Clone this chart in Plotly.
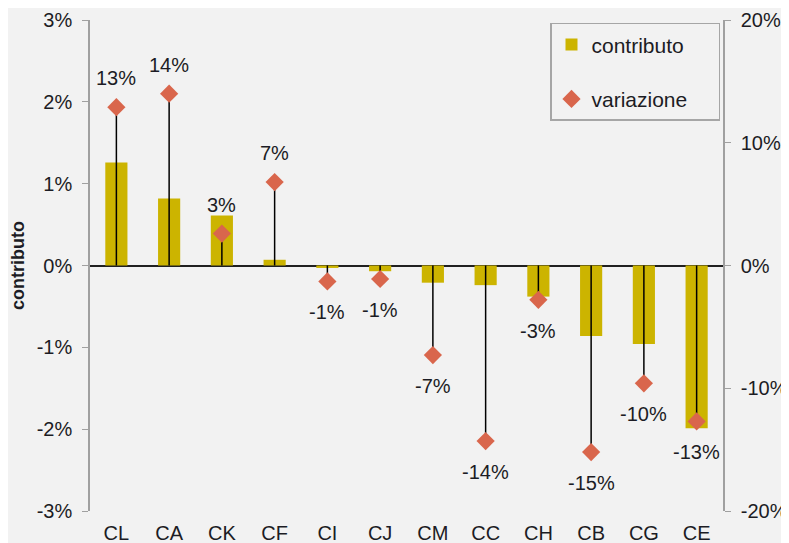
import plotly.graph_objects as go

categories = ["CL", "CA", "CK", "CF", "CI", "CJ", "CM", "CC", "CH", "CB", "CG", "CE"]
contributo = [0.0126, 0.0082, 0.0061, 0.0007, -0.0003, -0.0007, -0.0021, -0.0024, -0.0038, -0.0086, -0.0096, -0.0199]
variazione = [0.129, 0.140, 0.026, 0.068, -0.013, -0.011, -0.073, -0.143, -0.028, -0.152, -0.096, -0.127]
y1_ticks = [-0.03, -0.02, -0.01, 0, 0.01, 0.02, 0.03]
y2_ticks = [-0.2, -0.1, 0, 0.1, 0.2]


def pct(v):
    return f"{v * 100:.0f}%"


FONT = "Liberation Sans, Arial, sans-serif"
TXT = "#1c1c24"
BAR_C = "#ccb400"
MK_C = "#d9664c"
AX_C = "#a0a0a0"
FS = 20

fig = go.Figure()
fig.add_trace(go.Bar(
    x=categories, y=contributo, name="contributo&nbsp;&nbsp;&nbsp;&nbsp;&nbsp;",
    marker=dict(color=BAR_C, line=dict(width=0)),
    width=0.42, yaxis="y", legendgroup="a",
))
fig.add_trace(go.Scatter(
    x=categories, y=variazione, name="variazione", mode="markers", yaxis="y2", legendgroup="b",
    marker=dict(symbol="diamond", size=14, color=MK_C),
    error_y=dict(type="data", symmetric=False,
                 array=[max(-v, 0) for v in variazione],
                 arrayminus=[max(v, 0) for v in variazione],
                 color="black", thickness=1.5, width=0),
))

for c, v in zip(categories, variazione):
    fig.add_annotation(x=c, y=v, yref="y2", xref="x", text=pct(v), showarrow=False,
                       yshift=29 if v > 0 else -31, font=dict(family=FONT, size=FS, color=TXT))

fig.update_layout(
    width=781, height=535,
    margin=dict(l=82, r=66, t=12, b=32),
    paper_bgcolor="#f2f2f2", plot_bgcolor="#f2f2f2",
    font=dict(family=FONT, size=FS, color=TXT),
    showlegend=True,
    legend=dict(x=460 / 633, y=0.994, xanchor="left", yanchor="top",
                bordercolor="#a6a6a6", borderwidth=1.5, bgcolor="#f2f2f2",
                font=dict(family=FONT, size=21, color=TXT), tracegroupgap=24, itemwidth=30),
    xaxis=dict(range=[-0.5, len(categories) - 0.5], showline=False, showgrid=False, zeroline=False,
               ticks="", ticklabelstandoff=8,
               automargin=False, tickfont=dict(family=FONT, size=FS, color=TXT)),
    yaxis=dict(range=[-0.03, 0.03], tickvals=y1_ticks, ticktext=[pct(v) for v in y1_ticks],
               showgrid=False, zeroline=True, zerolinecolor="#202020", zerolinewidth=1.5,
               showline=True, linecolor=AX_C, linewidth=1.5, ticks="outside", ticklen=6, tickcolor=AX_C,
               ticklabelstandoff=6, automargin=False,
               title=dict(text="<b>contributo</b>", font=dict(family=FONT, size=18, color=TXT), standoff=8),
               tickfont=dict(family=FONT, size=FS, color=TXT)),
    yaxis2=dict(range=[-0.2, 0.2], tickvals=y2_ticks, ticktext=[pct(v) for v in y2_ticks],
                overlaying="y", side="right", showgrid=False, zeroline=False,
                showline=True, linecolor=AX_C, linewidth=1.5, ticks="outside", ticklen=6, tickcolor=AX_C,
                ticklabelstandoff=6, automargin=False,
                tickfont=dict(family=FONT, size=FS, color=TXT)),
)

fig.write_html("out.html")
